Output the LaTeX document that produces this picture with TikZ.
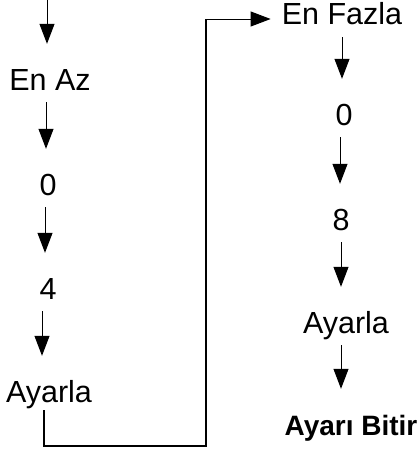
\documentclass[tikz,border=0pt]{standalone}
\usepackage{fontspec}
\setmainfont{Liberation Sans}
\usetikzlibrary{arrows.meta}

\begin{document}
\begin{tikzpicture}[x=1pt,y=-1pt,
    lbl/.style={inner sep=0pt,text height=21pt,text depth=0pt,anchor=base,font=\fontsize{30.5}{33}\selectfont},
    flow/.style={line width=1pt,-{Triangle[length=20pt,width=15pt]},shorten <=12pt,shorten >=25pt}]
    \useasboundingbox (0,0) rectangle (419,450);
    % left column
    \coordinate (top) at (47,0);
    \node[lbl] (enaz) at (50,90) {En Az};
    \node[lbl] (minzero) at (48,195) {0};
    \node[lbl] (minfour) at (48,299) {4};
    \node[lbl] (setmin) at (49,402) {Ayarla};
    % right column
    \node[lbl] (enfazla) at (342,24) {En Fazla};
    \node[lbl] (maxzero) at (344,125) {0};
    \node[lbl] (maxeight) at (341,230) {8};
    \node[lbl] (setmax) at (346,333) {Ayarla};
    \node[lbl,font=\fontsize{28}{30}\selectfont\bfseries] (finish) at (351,435) {Ayarı Bitir};
    \draw[flow,shorten <=0pt] (top) -- (top |- enaz.north);
    \draw[flow] ([xshift=-4pt]enaz.south) -- ([xshift=-4pt]enaz.south |- minzero.north);
    \draw[flow] ([xshift=-3pt]minzero.south) -- ([xshift=-3pt]minzero.south |- minfour.north);
    \draw[flow] ([xshift=-6pt]minfour.south) -- ([xshift=-6pt]minfour.south |- setmin.north);
    \draw[flow,shorten <=13pt] (enfazla.south) -- (enfazla.south |- maxzero.north);
    \draw[flow] ([xshift=-4pt]maxzero.south) -- ([xshift=-4pt]maxzero.south |- maxeight.north);
    \draw[flow] (maxeight.south) -- (maxeight.south |- setmax.north);
    \draw[flow] ([xshift=-5pt]setmax.south) -- ([xshift=-5pt]setmax.south |- finish.north);
    % jump from min to max
    \coordinate (turn) at (206,446);
    \coordinate (knee) at (206,19);
    \draw[line width=2pt,shorten <=8pt] ([xshift=-5pt]setmin.south) |- (turn) -- (knee);
    \draw[flow,shorten <=0pt,shorten >=11pt] (knee) -- (knee -| enfazla.west);
  \end{tikzpicture}
\end{document}
